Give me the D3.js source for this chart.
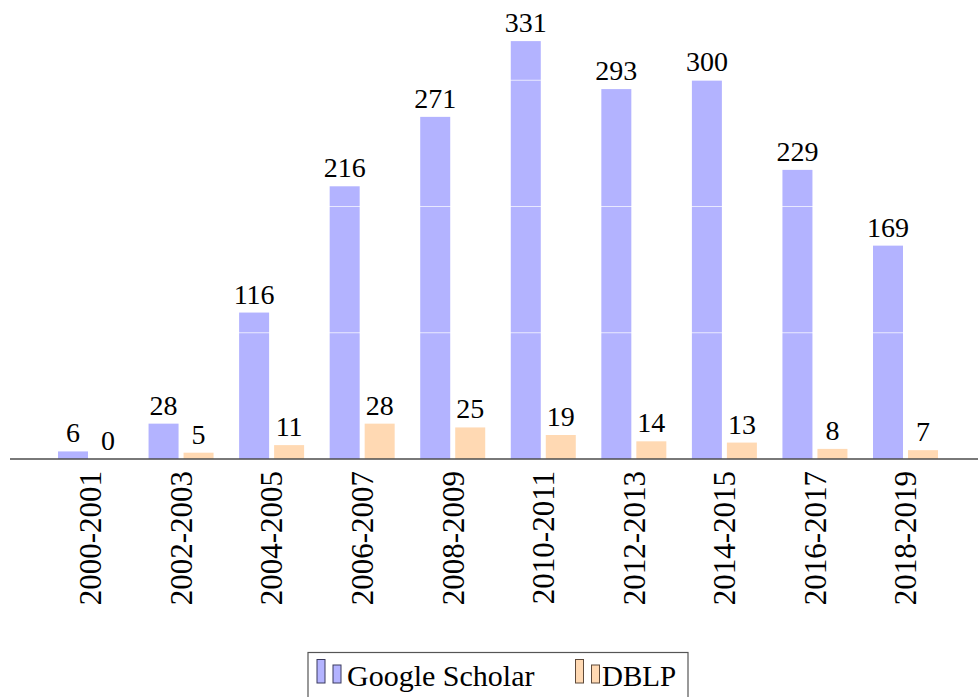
<!DOCTYPE html>
<html>
<head>
<meta charset="utf-8">
<script src="https://cdn.jsdelivr.net/npm/d3@7/dist/d3.min.js"></script>
<style>
  html, body { margin: 0; padding: 0; background: #fff; }
  svg { display: block; }
  svg text { font-family: "Liberation Serif", "DejaVu Serif"; }
</style>
</head>
<body>
<svg id="chart" width="978" height="697"></svg>
<script>
const categories = ["2000-2001","2002-2003","2004-2005","2006-2007","2008-2009","2010-2011","2012-2013","2014-2015","2016-2017","2018-2019"];
const seriesNames = ["Google Scholar", "DBLP"];
const googleScholar = [6, 28, 116, 216, 271, 331, 293, 300, 229, 169];
const dblp = [0, 5, 11, 28, 25, 19, 14, 13, 8, 7];
const gridValues = [100, 200, 300];
const colors = ["#b3b3ff", "#ffd9b3"];
const legendStroke = ["#3a3a5e", "#5e4a3a"];

const svg = d3.select("#chart");
const baseY = 459;

const x = d3.scalePoint().domain(categories).range([90.5, 905.5]);
const xs = d3.scaleBand().domain(seriesNames).range([-32.5, 32.5]).paddingInner(5/35).paddingOuter(0);
const y = d3.scaleLinear().domain([0, 350]).range([baseY, baseY - 350 * 1.2625]);

const series = [googleScholar, dblp];

series.forEach((vals, si) => {
  const g = svg.append("g");
  g.selectAll("rect").data(vals).enter().append("rect")
    .attr("x", (d, i) => x(categories[i]) + xs(seriesNames[si]))
    .attr("width", xs.bandwidth())
    .attr("y", d => y(d))
    .attr("height", d => y(0) - y(d))
    .attr("fill", colors[si]);
});

// white grid lines drawn over bars
svg.append("g").selectAll("line").data(gridValues).enter().append("line")
  .attr("x1", 10).attr("x2", 978)
  .attr("y1", d => y(d)).attr("y2", d => y(d))
  .attr("stroke", "#ffffff").attr("stroke-opacity", 0.7).attr("stroke-width", 1.2);

// value labels
series.forEach((vals, si) => {
  svg.append("g").selectAll("text").data(vals).enter().append("text")
    .attr("x", (d, i) => x(categories[i]) + xs(seriesNames[si]) + xs.bandwidth() / 2)
    .attr("y", d => y(d) - 9)
    .attr("text-anchor", "middle")
    .attr("font-size", 28)
    .attr("fill", "#000")
    .text(d => d);
});

// x axis line
svg.append("line")
  .attr("x1", 10).attr("x2", 978)
  .attr("y1", baseY).attr("y2", baseY)
  .attr("stroke", "#4d4d4d").attr("stroke-width", 1.4);

// tick labels rotated
svg.append("g").selectAll("text").data(categories).enter().append("text")
  .attr("transform", d => `translate(${x(d)},${471}) rotate(-90)`)
  .attr("text-anchor", "end")
  .attr("dy", "0.35em")
  .attr("font-size", 31)
  .attr("fill", "#000")
  .text(d => d);

// legend
const lg = svg.append("g");
lg.append("rect").attr("x", 308).attr("y", 652.5).attr("width", 380).attr("height", 60)
  .attr("fill", "#fff").attr("stroke", "#555").attr("stroke-width", 1.2);
const legendItems = [
  { name: seriesNames[0], x0: 317, tx: 347 },
  { name: seriesNames[1], x0: 575.5, tx: 602 }
];
legendItems.forEach((it, i) => {
  lg.append("rect").attr("x", it.x0).attr("y", 659.5).attr("width", 8).attr("height", 23.5)
    .attr("fill", colors[i]).attr("stroke", legendStroke[i]).attr("stroke-width", 1);
  lg.append("rect").attr("x", it.x0 + 16).attr("y", 665).attr("width", 8).attr("height", 18)
    .attr("fill", colors[i]).attr("stroke", legendStroke[i]).attr("stroke-width", 1);
  lg.append("text").attr("x", it.tx).attr("y", 686)
    .attr("font-size", i === 0 ? 30 : 29).attr("fill", "#000")
    .text(it.name);
});
</script>
</body>
</html>
